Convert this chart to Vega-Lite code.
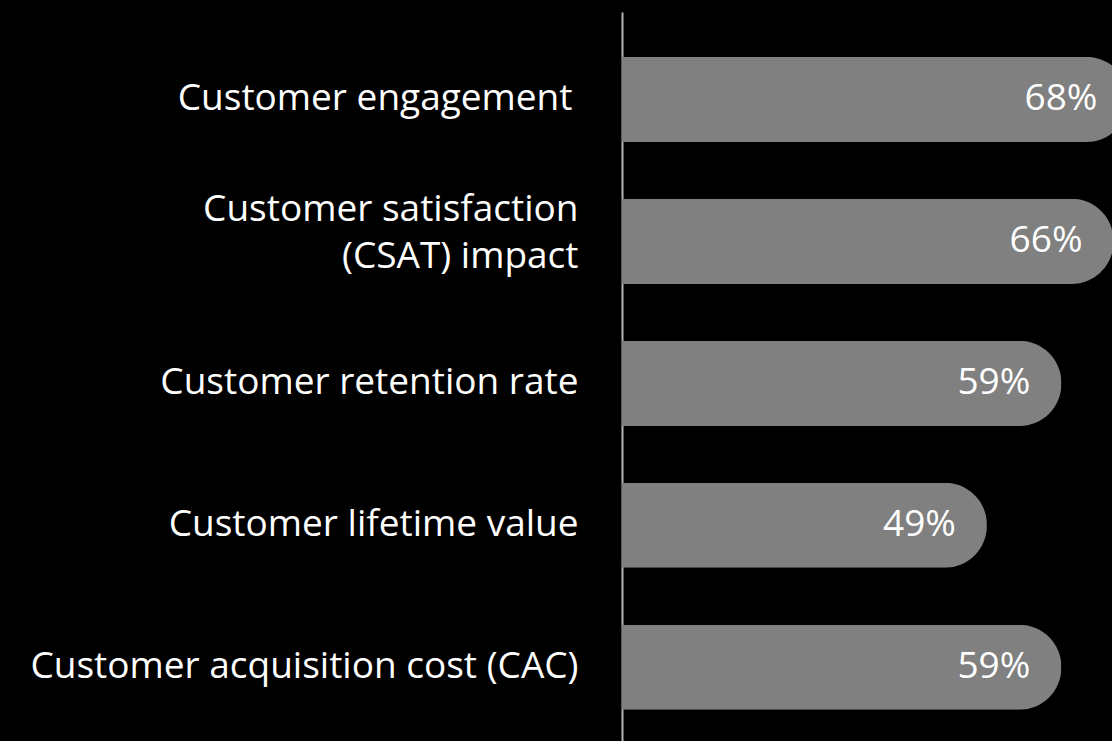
{
  "$schema": "https://vega.github.io/schema/vega-lite/v6.json",
  "autosize": "none",
  "width": 490,
  "height": 729,
  "padding": {"left": 622, "top": 12, "right": 0, "bottom": 0},
  "background": "#000000",
  "config": {"view": {"stroke": null}, "font": "Open Sans"},
  "data": {
    "values": [
      {"metric": "Customer engagement", "value": 0.68},
      {"metric": "Customer satisfaction\n(CSAT) impact", "value": 0.66},
      {"metric": "Customer retention rate", "value": 0.59},
      {"metric": "Customer lifetime value", "value": 0.49},
      {"metric": "Customer acquisition cost (CAC)", "value": 0.59}
    ]
  },
  "encoding": {
    "y": {
      "field": "metric",
      "type": "nominal",
      "sort": null,
      "scale": {"paddingInner": 0.4, "paddingOuter": 0.268, "align": 0.59},
      "axis": {
        "title": null,
        "ticks": false,
        "domain": true,
        "domainColor": "#b4b4b4",
        "domainWidth": 2,
        "labelColor": "#ffffff",
        "labelFont": "Open Sans",
        "labelFontSize": 37,
        "labelPadding": {"condition": {"test": "datum.value === 'Customer engagement'", "value": 50}, "value": 44},
        "labelLimit": 700,
        "labelLineHeight": 47,
        "labelOffset": {"condition": {"test": "indexof(datum.value, '\\n') >= 0", "value": -31}, "value": 0},
        "labelExpr": "split(datum.label, '\\n')"
      }
    },
    "x": {
      "field": "value",
      "type": "quantitative",
      "scale": {"domain": [0, 0.658], "nice": false},
      "axis": null
    }
  },
  "layer": [
    {"mark": {"type": "bar", "color": "#808080", "cornerRadiusEnd": 42}},
    {
      "mark": {"type": "text", "align": "right", "baseline": "middle", "dx": -31, "color": "#ffffff", "fontSize": 37, "font": "Open Sans"},
      "encoding": {"text": {"field": "value", "type": "quantitative", "format": ".0%"}}
    }
  ]
}
